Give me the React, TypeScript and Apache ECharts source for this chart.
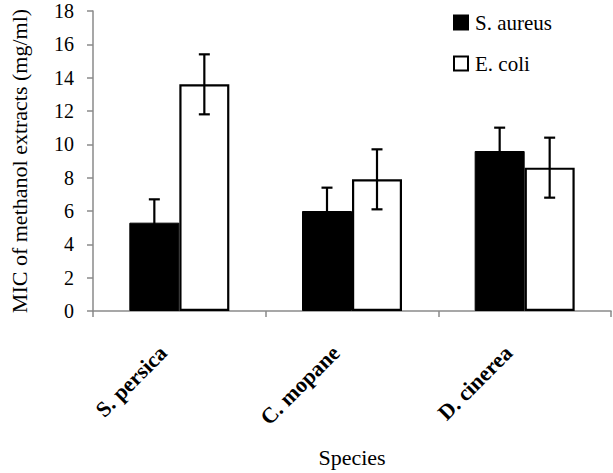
import React, { useEffect, useRef } from "react";
import * as echarts from "echarts";

const categories = ["S. persica", "C. mopane", "D. cinerea"];
const seriesNames = ["S. aureus", "E. coli"];
const aureusValues = [5.3, 6.0, 9.6];
const aureusErrors = [1.4, 1.4, 1.4];
const coliValues = [13.6, 7.9, 8.6];
const coliErrors = [1.8, 1.8, 1.8];
const yTicks = { min: 0, max: 18, interval: 2 };

const FONT = "'Liberation Serif', 'Times New Roman', 'DejaVu Serif', serif";
const BAR_W = 50;

function errorSeries(name: string, values: number[], errors: number[], dir: number) {
  return {
    type: "custom",
    name: name + " error",
    z: 10,
    silent: true,
    encode: { x: 0, y: 1 },
    data: values.map((v, i) => [i, v, errors[i]]),
    renderItem: (params: any, api: any) => {
      const i = api.value(0);
      const v = api.value(1);
      const e = api.value(2);
      const top = api.coord([i, v + e]);
      const bot = api.coord([i, v - e]);
      const x = top[0] + (dir * BAR_W) / 2;
      const cap = 5.5;
      const style = { stroke: "#000", lineWidth: 2.2 };
      return {
        type: "group",
        children: [
          { type: "line", shape: { x1: x, y1: top[1], x2: x, y2: bot[1] }, style },
          { type: "line", shape: { x1: x - cap, y1: top[1], x2: x + cap, y2: top[1] }, style },
          { type: "line", shape: { x1: x - cap, y1: bot[1], x2: x + cap, y2: bot[1] }, style },
        ],
      };
    },
  };
}

export default function App() {
  const ref = useRef<HTMLDivElement>(null);
  useEffect(() => {
    if (!ref.current) return;
    const chart = echarts.init(ref.current, null, { renderer: "svg" });
    chart.setOption({
      animation: false,
      backgroundColor: "#fff",
      textStyle: { fontFamily: FONT, color: "#000" },
      grid: { left: 82, right: 2, top: 11, bottom: 160, containLabel: false },
      legend: {
        data: seriesNames,
        orient: "vertical",
        left: 453,
        top: 12,
        padding: 0,
        itemWidth: 14,
        itemHeight: 14,
        itemGap: 20,
        icon: "rect",
        textStyle: { fontFamily: FONT, fontSize: 21, color: "#000", padding: [0, 0, 0, 2] },
      },
      xAxis: {
        type: "category",
        data: categories,
        name: "Species",
        nameLocation: "middle",
        nameGap: 135,
        nameTextStyle: { fontFamily: FONT, fontSize: 22, color: "#000" },
        axisLine: { lineStyle: { color: "#8a8a8a", width: 1.5 } },
        axisTick: { show: true, length: 6, lineStyle: { color: "#8a8a8a", width: 1.5 } },
        axisLabel: {
          rotate: 45,
          margin: 22,
          padding: [0, 23, 8, 0],
          fontFamily: FONT,
          fontSize: 22,
          fontWeight: "bold",
          color: "#000",
        },
      },
      yAxis: {
        type: "value",
        min: yTicks.min,
        max: yTicks.max,
        interval: yTicks.interval,
        name: "MIC of methanol extracts (mg/ml)",
        nameLocation: "middle",
        nameRotate: 90,
        nameGap: 63,
        nameTextStyle: { fontFamily: FONT, fontSize: 22, color: "#000" },
        axisLine: { show: true, lineStyle: { color: "#8a8a8a", width: 1.5 } },
        axisTick: { show: true, length: 6, lineStyle: { color: "#8a8a8a", width: 1.5 } },
        splitLine: { show: false },
        axisLabel: { margin: 19, fontFamily: FONT, fontSize: 20, color: "#000" },
      },
      series: [
        {
          type: "bar",
          name: seriesNames[0],
          data: aureusValues,
          barWidth: BAR_W,
          barGap: "0%",
          itemStyle: { color: "#000", borderColor: "#000", borderWidth: 1 },
        },
        {
          type: "bar",
          name: seriesNames[1],
          data: coliValues,
          barWidth: BAR_W,
          barGap: "0%",
          itemStyle: { color: "#fff", borderColor: "#000", borderWidth: 2.2 },
        },
        errorSeries(seriesNames[0], aureusValues, aureusErrors, -1),
        errorSeries(seriesNames[1], coliValues, coliErrors, 1),
      ],
    });
    return () => chart.dispose();
  }, []);
  return (
    <div
      ref={ref}
      style={{ position: "fixed", left: 0, top: 0, width: 613, height: 473, background: "#fff" }}
    />
  );
}
